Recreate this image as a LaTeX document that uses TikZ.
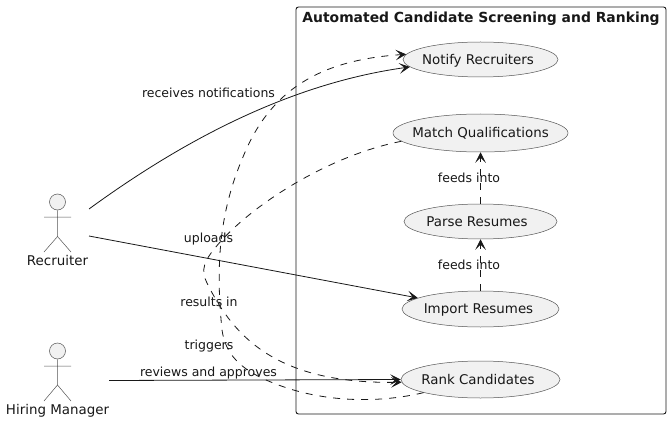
\documentclass[tikz,border=0pt]{standalone}
\usepackage{fontspec}
\setmainfont{DejaVu Sans}
\usetikzlibrary{arrows.meta,shapes.geometric}
\definecolor{ink}{HTML}{181818}
\definecolor{thinink}{HTML}{555555}
\definecolor{ucfill}{HTML}{F1F1F1}
\tikzset{
  txt/.style={font=\fontsize{12.5}{15}\selectfont,text=ink,inner sep=0pt,text height=10.8pt,text depth=1.2pt},
  bigtxt/.style={txt,font=\fontsize{13.4}{15}\selectfont},
  usecase/.style={ellipse,draw=thinink,line width=0.5pt,fill=ucfill,bigtxt,inner xsep=-20pt,inner ysep=0pt},
  actorhead/.style={circle,draw=thinink,line width=0.5pt,fill=ucfill,minimum size=16pt,inner sep=0pt},
  actorline/.style={draw=thinink,line width=0.5pt},
  tipped/.style={draw=ink,line width=0.8pt,-{Stealth[length=10.5pt,width=10.5pt,inset=5pt,fill=ink]}},
  dashedge/.style={tipped,dash pattern=on 7pt off 7pt},
  sysbox/.style={draw=ink,line width=0.9pt,rounded corners=2.5pt}
}
\begin{document}
\begin{tikzpicture}[x=1pt,y=-1pt]
\useasboundingbox (0,0) rectangle (671,422);
\fill[white] (0,0) rectangle (671,422);
\draw[sysbox] (296,7) rectangle (666,414);
\node[txt,font=\fontsize{13.9}{15}\selectfont\bfseries] (title) at (481,17.5) {Automated Candidate Screening and Ranking};

\node[usecase,minimum width=155pt,minimum height=35pt] (notify) at (480.5,59.5) {Notify Recruiters\kern5pt};
\node[usecase,minimum width=175pt,minimum height=38pt] (match) at (480.5,133) {Match Qualifications};
\node[usecase,minimum width=153pt,minimum height=35pt] (parse) at (480.5,221.5) {Parse Resumes\kern7pt};
\node[usecase,minimum width=157pt,minimum height=36pt] (import) at (480.5,309) {Import Resumes\kern4pt};
\node[usecase,minimum width=159pt,minimum height=37pt] (rank) at (480.5,379.5) {Rank Candidates\kern5pt};

% actors
\node[actorhead] (rechead) at (57.5,202) {};
\draw[actorline] (rechead.south) -- (57.5,236.5) -- (44,252) (57.5,236.5) -- (71,252) (44,217) -- (71,217);
\node[bigtxt] (reclabel) at (57.5,261) {Recruiter};
\node[actorhead] (hmhead) at (57.5,351) {};
\draw[actorline] (hmhead.south) -- (57.5,385) -- (44,401) (57.5,385) -- (71,401) (44,366) -- (71,366);
\node[bigtxt] (hmlabel) at (57.5,410) {Hiring Manager};

\coordinate (recA) at (89,209);
\coordinate (recB) at (89,236);
\coordinate (hmA) at (109,380.5);

% connectors
\draw[tipped] (recA) .. controls (170,150) and (280,85) .. (notify.186);
\draw[tipped] (recB) -- (import.170);
\draw[tipped] (hmA) -- (rank.180);
\draw[dashedge] (parse.north) -- (match.south);
\draw[dashedge] (import.north) -- (parse.south);
\draw[dashedge] (match.186) .. controls (330,155) and (250,205) .. (215,248)
   .. controls (205,260) and (200,270) .. (207,283)
   .. controls (235,340) and (280,384) .. (rank.182);
\draw[dashedge] (rank.193) .. controls (380,403) and (330,402) .. (287,388)
   .. controls (245,374) and (226,358) .. (222,330)
   .. controls (216,270) and (218,215) .. (243,157)
   .. controls (270,90) and (320,60) .. (notify.176);

% labels
\node[txt] (l1) at (208.5,93) {receives notifications};
\node[txt] (l2) at (208.5,237.5) {uploads};
\node[txt] (l3) at (209,302) {results in};
\node[txt] (l4) at (209,345) {triggers};
\node[txt] (l5) at (208.5,371.5) {reviews and approves};
\node[txt] (l6) at (469,178) {feeds into};
\node[txt] (l7) at (469,265) {feeds into};
\end{tikzpicture}
\end{document}
